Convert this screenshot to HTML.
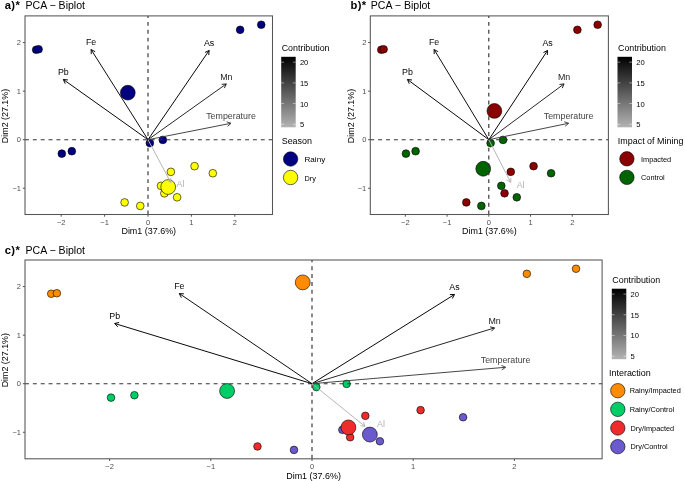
<!DOCTYPE html>
<html><head><meta charset="utf-8"><style>
html,body{margin:0;padding:0;background:#fff;}
svg{display:block;font-family:"Liberation Sans", sans-serif;will-change:transform;}
</style></head><body>
<svg width="685" height="481" viewBox="0 0 685 481">
<rect width="685" height="481" fill="#fff"/>
<text x="4.8" y="9.2" font-size="11.2" font-weight="bold" fill="#000" letter-spacing="0.35">a)*</text>
<text x="25.5" y="9.2" font-size="10.55" fill="#000">PCA − Biplot</text>
<circle cx="36.16" cy="49.74" r="3.85" fill="#000080" stroke="#000" stroke-width="0.6"/>
<circle cx="38.59" cy="49.25" r="3.85" fill="#000080" stroke="#000" stroke-width="0.6"/>
<circle cx="240.14" cy="29.83" r="3.85" fill="#000080" stroke="#000" stroke-width="0.6"/>
<circle cx="261.23" cy="24.73" r="3.85" fill="#000080" stroke="#000" stroke-width="0.6"/>
<circle cx="61.81" cy="153.63" r="3.85" fill="#000080" stroke="#000" stroke-width="0.6"/>
<circle cx="71.83" cy="151.21" r="3.85" fill="#000080" stroke="#000" stroke-width="0.6"/>
<circle cx="149.87" cy="143.10" r="3.85" fill="#000080" stroke="#000" stroke-width="0.6"/>
<circle cx="162.84" cy="139.89" r="3.85" fill="#000080" stroke="#000" stroke-width="0.6"/>
<circle cx="124.61" cy="202.43" r="3.85" fill="#ffff00" stroke="#000" stroke-width="0.6"/>
<circle cx="194.57" cy="166.16" r="3.85" fill="#ffff00" stroke="#000" stroke-width="0.6"/>
<circle cx="170.87" cy="171.84" r="3.85" fill="#ffff00" stroke="#000" stroke-width="0.6"/>
<circle cx="164.36" cy="193.30" r="3.85" fill="#ffff00" stroke="#000" stroke-width="0.6"/>
<circle cx="140.27" cy="205.92" r="3.85" fill="#ffff00" stroke="#000" stroke-width="0.6"/>
<circle cx="212.80" cy="173.25" r="3.85" fill="#ffff00" stroke="#000" stroke-width="0.6"/>
<circle cx="161.02" cy="185.82" r="3.85" fill="#ffff00" stroke="#000" stroke-width="0.6"/>
<circle cx="177.12" cy="197.28" r="3.85" fill="#ffff00" stroke="#000" stroke-width="0.6"/>
<circle cx="127.81" cy="92.67" r="7.4" fill="#000080" stroke="#000" stroke-width="0.6"/>
<circle cx="168.20" cy="187.00" r="7.4" fill="#ffff00" stroke="#000" stroke-width="0.6"/>
<line x1="25.0" y1="139.7" x2="272.5" y2="139.7" stroke="#333" stroke-width="1.15" stroke-dasharray="3.93 3.93"/>
<line x1="148.0" y1="214.5" x2="148.0" y2="15.9" stroke="#333" stroke-width="1.15" stroke-dasharray="3.93 3.93"/>
<line x1="148.0" y1="139.7" x2="91.10" y2="49.54" stroke="#090909" stroke-width="0.98"/>
<line x1="91.10" y1="49.54" x2="91.28" y2="54.14" stroke="#090909" stroke-width="0.98"/>
<line x1="91.10" y1="49.54" x2="95.17" y2="51.68" stroke="#090909" stroke-width="0.98"/>
<text x="91.10" y="45.24" font-size="8.85" fill="#090909" text-anchor="middle">Fe</text>
<line x1="148.0" y1="139.7" x2="63.37" y2="79.50" stroke="#020202" stroke-width="0.98"/>
<line x1="63.37" y1="79.50" x2="65.28" y2="83.68" stroke="#020202" stroke-width="0.98"/>
<line x1="63.37" y1="79.50" x2="67.95" y2="79.93" stroke="#020202" stroke-width="0.98"/>
<text x="63.37" y="75.20" font-size="8.85" fill="#020202" text-anchor="middle">Pb</text>
<line x1="148.0" y1="139.7" x2="209.11" y2="50.47" stroke="#010101" stroke-width="0.98"/>
<line x1="209.11" y1="50.47" x2="204.96" y2="52.45" stroke="#010101" stroke-width="0.98"/>
<line x1="209.11" y1="50.47" x2="208.75" y2="55.05" stroke="#010101" stroke-width="0.98"/>
<text x="209.11" y="46.17" font-size="8.85" fill="#010101" text-anchor="middle">As</text>
<line x1="148.0" y1="139.7" x2="226.29" y2="83.92" stroke="#222222" stroke-width="0.98"/>
<line x1="226.29" y1="83.92" x2="221.71" y2="84.35" stroke="#222222" stroke-width="0.98"/>
<line x1="226.29" y1="83.92" x2="224.38" y2="88.10" stroke="#222222" stroke-width="0.98"/>
<text x="226.29" y="79.62" font-size="8.85" fill="#222222" text-anchor="middle">Mn</text>
<line x1="148.0" y1="139.7" x2="231.02" y2="123.29" stroke="#434343" stroke-width="0.98"/>
<line x1="231.02" y1="123.29" x2="226.67" y2="121.81" stroke="#434343" stroke-width="0.98"/>
<line x1="231.02" y1="123.29" x2="227.56" y2="126.32" stroke="#434343" stroke-width="0.98"/>
<text x="231.02" y="118.99" font-size="8.85" fill="#434343" text-anchor="middle">Temperature</text>
<line x1="148.0" y1="139.7" x2="170.74" y2="182.38" stroke="#b3b3b3" stroke-width="0.98"/>
<line x1="170.74" y1="182.38" x2="170.90" y2="177.78" stroke="#b3b3b3" stroke-width="0.98"/>
<line x1="170.74" y1="182.38" x2="166.84" y2="179.94" stroke="#b3b3b3" stroke-width="0.98"/>
<text x="180.50" y="186.50" font-size="8.85" fill="#b3b3b3" text-anchor="middle">Al</text>
<rect x="25.0" y="15.9" width="247.5" height="198.6" fill="none" stroke="#555" stroke-width="1.05"/>
<line x1="61.20" y1="214.5" x2="61.20" y2="216.7" stroke="#555" stroke-width="1"/>
<text x="61.20" y="224.5" font-size="7.5" fill="#4d4d4d" text-anchor="middle">−2</text>
<line x1="104.60" y1="214.5" x2="104.60" y2="216.7" stroke="#555" stroke-width="1"/>
<text x="104.60" y="224.5" font-size="7.5" fill="#4d4d4d" text-anchor="middle">−1</text>
<line x1="148.00" y1="214.5" x2="148.00" y2="216.7" stroke="#555" stroke-width="1"/>
<text x="148.00" y="224.5" font-size="7.5" fill="#4d4d4d" text-anchor="middle">0</text>
<line x1="191.40" y1="214.5" x2="191.40" y2="216.7" stroke="#555" stroke-width="1"/>
<text x="191.40" y="224.5" font-size="7.5" fill="#4d4d4d" text-anchor="middle">1</text>
<line x1="234.80" y1="214.5" x2="234.80" y2="216.7" stroke="#555" stroke-width="1"/>
<text x="234.80" y="224.5" font-size="7.5" fill="#4d4d4d" text-anchor="middle">2</text>
<line x1="22.8" y1="188.25" x2="25.0" y2="188.25" stroke="#555" stroke-width="1"/>
<text x="21.0" y="191.00" font-size="7.5" fill="#4d4d4d" text-anchor="end">−1</text>
<line x1="22.8" y1="139.70" x2="25.0" y2="139.70" stroke="#555" stroke-width="1"/>
<text x="21.0" y="142.45" font-size="7.5" fill="#4d4d4d" text-anchor="end">0</text>
<line x1="22.8" y1="91.15" x2="25.0" y2="91.15" stroke="#555" stroke-width="1"/>
<text x="21.0" y="93.90" font-size="7.5" fill="#4d4d4d" text-anchor="end">1</text>
<line x1="22.8" y1="42.60" x2="25.0" y2="42.60" stroke="#555" stroke-width="1"/>
<text x="21.0" y="45.35" font-size="7.5" fill="#4d4d4d" text-anchor="end">2</text>
<text x="148.75" y="234.3" font-size="8.95" fill="#000" text-anchor="middle">Dim1 (37.6%)</text>
<text transform="translate(8.4,116.00) rotate(-90)" font-size="8.9" fill="#000" text-anchor="middle">Dim2 (27.1%)</text>
<text x="281.7" y="51.2" font-size="8.9" fill="#000">Contribution</text>
<defs><linearGradient id="ga" x1="0" y1="0" x2="0" y2="1"><stop offset="0" stop-color="#000000"/><stop offset="0.5" stop-color="#5a5a5a"/><stop offset="1" stop-color="#b3b3b3"/></linearGradient></defs>
<rect x="281.2" y="56.8" width="14.5" height="70.5" fill="url(#ga)"/>
<line x1="281.2" y1="62.18" x2="284.0" y2="62.18" stroke="#fff" stroke-width="0.6" opacity="0.8"/>
<line x1="292.9" y1="62.18" x2="295.7" y2="62.18" stroke="#fff" stroke-width="0.6" opacity="0.8"/>
<text x="299.9" y="65.18" font-size="7.6" fill="#000">20</text>
<line x1="281.2" y1="82.88" x2="284.0" y2="82.88" stroke="#fff" stroke-width="0.6" opacity="0.8"/>
<line x1="292.9" y1="82.88" x2="295.7" y2="82.88" stroke="#fff" stroke-width="0.6" opacity="0.8"/>
<text x="299.9" y="85.88" font-size="7.6" fill="#000">15</text>
<line x1="281.2" y1="103.58" x2="284.0" y2="103.58" stroke="#fff" stroke-width="0.6" opacity="0.8"/>
<line x1="292.9" y1="103.58" x2="295.7" y2="103.58" stroke="#fff" stroke-width="0.6" opacity="0.8"/>
<text x="299.9" y="106.58" font-size="7.6" fill="#000">10</text>
<line x1="281.2" y1="124.28" x2="284.0" y2="124.28" stroke="#fff" stroke-width="0.6" opacity="0.8"/>
<line x1="292.9" y1="124.28" x2="295.7" y2="124.28" stroke="#fff" stroke-width="0.6" opacity="0.8"/>
<text x="299.9" y="127.28" font-size="7.6" fill="#000">5</text>
<text x="281.7" y="144.0" font-size="8.95" fill="#000">Season</text>
<circle cx="290.6" cy="159.00" r="7.2" fill="#000080" stroke="#000" stroke-width="0.6"/>
<text x="304.5" y="162.00" font-size="8.1" fill="#000">Rainy</text>
<circle cx="290.6" cy="177.50" r="7.2" fill="#ffff00" stroke="#000" stroke-width="0.6"/>
<text x="304.5" y="180.50" font-size="7.35" fill="#000">Dry</text>
<text x="350.6" y="9.2" font-size="11.2" font-weight="bold" fill="#000" letter-spacing="0.35">b)*</text>
<text x="370.8" y="9.2" font-size="10.55" fill="#000">PCA − Biplot</text>
<circle cx="381.29" cy="49.74" r="3.85" fill="#8b0000" stroke="#000" stroke-width="0.6"/>
<circle cx="383.62" cy="49.25" r="3.85" fill="#8b0000" stroke="#000" stroke-width="0.6"/>
<circle cx="577.37" cy="29.83" r="3.85" fill="#8b0000" stroke="#000" stroke-width="0.6"/>
<circle cx="597.65" cy="24.73" r="3.85" fill="#8b0000" stroke="#000" stroke-width="0.6"/>
<circle cx="466.31" cy="202.43" r="3.85" fill="#8b0000" stroke="#000" stroke-width="0.6"/>
<circle cx="533.57" cy="166.16" r="3.85" fill="#8b0000" stroke="#000" stroke-width="0.6"/>
<circle cx="510.79" cy="171.84" r="3.85" fill="#8b0000" stroke="#000" stroke-width="0.6"/>
<circle cx="504.53" cy="193.30" r="3.85" fill="#8b0000" stroke="#000" stroke-width="0.6"/>
<circle cx="405.94" cy="153.63" r="3.85" fill="#006400" stroke="#000" stroke-width="0.6"/>
<circle cx="415.58" cy="151.21" r="3.85" fill="#006400" stroke="#000" stroke-width="0.6"/>
<circle cx="490.59" cy="143.10" r="3.85" fill="#006400" stroke="#000" stroke-width="0.6"/>
<circle cx="503.07" cy="139.89" r="3.85" fill="#006400" stroke="#000" stroke-width="0.6"/>
<circle cx="481.37" cy="205.92" r="3.85" fill="#006400" stroke="#000" stroke-width="0.6"/>
<circle cx="551.09" cy="173.25" r="3.85" fill="#006400" stroke="#000" stroke-width="0.6"/>
<circle cx="501.32" cy="185.82" r="3.85" fill="#006400" stroke="#000" stroke-width="0.6"/>
<circle cx="516.79" cy="197.28" r="3.85" fill="#006400" stroke="#000" stroke-width="0.6"/>
<circle cx="494.39" cy="110.91" r="7.4" fill="#8b0000" stroke="#000" stroke-width="0.6"/>
<circle cx="483.22" cy="168.76" r="7.4" fill="#006400" stroke="#000" stroke-width="0.6"/>
<line x1="370.3" y1="139.7" x2="608.4" y2="139.7" stroke="#333" stroke-width="1.15" stroke-dasharray="3.93 3.93"/>
<line x1="488.8" y1="214.5" x2="488.8" y2="15.9" stroke="#333" stroke-width="1.15" stroke-dasharray="3.93 3.93"/>
<line x1="488.8" y1="139.7" x2="434.11" y2="49.54" stroke="#090909" stroke-width="0.98"/>
<line x1="434.11" y1="49.54" x2="434.20" y2="54.14" stroke="#090909" stroke-width="0.98"/>
<line x1="434.11" y1="49.54" x2="438.14" y2="51.76" stroke="#090909" stroke-width="0.98"/>
<text x="434.11" y="45.24" font-size="8.85" fill="#090909" text-anchor="middle">Fe</text>
<line x1="488.8" y1="139.7" x2="407.45" y2="79.50" stroke="#020202" stroke-width="0.98"/>
<line x1="407.45" y1="79.50" x2="409.28" y2="83.72" stroke="#020202" stroke-width="0.98"/>
<line x1="407.45" y1="79.50" x2="412.02" y2="80.02" stroke="#020202" stroke-width="0.98"/>
<text x="407.45" y="75.20" font-size="8.85" fill="#020202" text-anchor="middle">Pb</text>
<line x1="488.8" y1="139.7" x2="547.54" y2="50.47" stroke="#010101" stroke-width="0.98"/>
<line x1="547.54" y1="50.47" x2="543.43" y2="52.53" stroke="#010101" stroke-width="0.98"/>
<line x1="547.54" y1="50.47" x2="547.27" y2="55.06" stroke="#010101" stroke-width="0.98"/>
<text x="547.54" y="46.17" font-size="8.85" fill="#010101" text-anchor="middle">As</text>
<line x1="488.8" y1="139.7" x2="564.06" y2="83.92" stroke="#222222" stroke-width="0.98"/>
<line x1="564.06" y1="83.92" x2="559.49" y2="84.44" stroke="#222222" stroke-width="0.98"/>
<line x1="564.06" y1="83.92" x2="562.23" y2="88.14" stroke="#222222" stroke-width="0.98"/>
<text x="564.06" y="79.62" font-size="8.85" fill="#222222" text-anchor="middle">Mn</text>
<line x1="488.8" y1="139.7" x2="568.61" y2="123.29" stroke="#434343" stroke-width="0.98"/>
<line x1="568.61" y1="123.29" x2="564.25" y2="121.84" stroke="#434343" stroke-width="0.98"/>
<line x1="568.61" y1="123.29" x2="565.17" y2="126.35" stroke="#434343" stroke-width="0.98"/>
<text x="568.61" y="118.99" font-size="8.85" fill="#434343" text-anchor="middle">Temperature</text>
<line x1="488.8" y1="139.7" x2="510.66" y2="182.38" stroke="#b3b3b3" stroke-width="0.98"/>
<line x1="510.66" y1="182.38" x2="510.89" y2="177.78" stroke="#b3b3b3" stroke-width="0.98"/>
<line x1="510.66" y1="182.38" x2="506.80" y2="179.88" stroke="#b3b3b3" stroke-width="0.98"/>
<text x="520.60" y="187.60" font-size="8.85" fill="#b3b3b3" text-anchor="middle">Al</text>
<rect x="370.3" y="15.9" width="238.09999999999997" height="198.6" fill="none" stroke="#555" stroke-width="1.05"/>
<line x1="405.36" y1="214.5" x2="405.36" y2="216.7" stroke="#555" stroke-width="1"/>
<text x="405.36" y="224.5" font-size="7.5" fill="#4d4d4d" text-anchor="middle">−2</text>
<line x1="447.08" y1="214.5" x2="447.08" y2="216.7" stroke="#555" stroke-width="1"/>
<text x="447.08" y="224.5" font-size="7.5" fill="#4d4d4d" text-anchor="middle">−1</text>
<line x1="488.80" y1="214.5" x2="488.80" y2="216.7" stroke="#555" stroke-width="1"/>
<text x="488.80" y="224.5" font-size="7.5" fill="#4d4d4d" text-anchor="middle">0</text>
<line x1="530.52" y1="214.5" x2="530.52" y2="216.7" stroke="#555" stroke-width="1"/>
<text x="530.52" y="224.5" font-size="7.5" fill="#4d4d4d" text-anchor="middle">1</text>
<line x1="572.24" y1="214.5" x2="572.24" y2="216.7" stroke="#555" stroke-width="1"/>
<text x="572.24" y="224.5" font-size="7.5" fill="#4d4d4d" text-anchor="middle">2</text>
<line x1="368.1" y1="188.25" x2="370.3" y2="188.25" stroke="#555" stroke-width="1"/>
<text x="366.3" y="191.00" font-size="7.5" fill="#4d4d4d" text-anchor="end">−1</text>
<line x1="368.1" y1="139.70" x2="370.3" y2="139.70" stroke="#555" stroke-width="1"/>
<text x="366.3" y="142.45" font-size="7.5" fill="#4d4d4d" text-anchor="end">0</text>
<line x1="368.1" y1="91.15" x2="370.3" y2="91.15" stroke="#555" stroke-width="1"/>
<text x="366.3" y="93.90" font-size="7.5" fill="#4d4d4d" text-anchor="end">1</text>
<line x1="368.1" y1="42.60" x2="370.3" y2="42.60" stroke="#555" stroke-width="1"/>
<text x="366.3" y="45.35" font-size="7.5" fill="#4d4d4d" text-anchor="end">2</text>
<text x="489.35" y="234.3" font-size="8.95" fill="#000" text-anchor="middle">Dim1 (37.6%)</text>
<text transform="translate(354.0,116.00) rotate(-90)" font-size="8.9" fill="#000" text-anchor="middle">Dim2 (27.1%)</text>
<text x="618.0" y="51.2" font-size="8.9" fill="#000">Contribution</text>
<defs><linearGradient id="gb" x1="0" y1="0" x2="0" y2="1"><stop offset="0" stop-color="#000000"/><stop offset="0.5" stop-color="#5a5a5a"/><stop offset="1" stop-color="#b3b3b3"/></linearGradient></defs>
<rect x="617.5" y="56.8" width="14.5" height="70.5" fill="url(#gb)"/>
<line x1="617.5" y1="62.18" x2="620.3" y2="62.18" stroke="#fff" stroke-width="0.6" opacity="0.8"/>
<line x1="629.2" y1="62.18" x2="632.0" y2="62.18" stroke="#fff" stroke-width="0.6" opacity="0.8"/>
<text x="636.2" y="65.18" font-size="7.6" fill="#000">20</text>
<line x1="617.5" y1="82.88" x2="620.3" y2="82.88" stroke="#fff" stroke-width="0.6" opacity="0.8"/>
<line x1="629.2" y1="82.88" x2="632.0" y2="82.88" stroke="#fff" stroke-width="0.6" opacity="0.8"/>
<text x="636.2" y="85.88" font-size="7.6" fill="#000">15</text>
<line x1="617.5" y1="103.58" x2="620.3" y2="103.58" stroke="#fff" stroke-width="0.6" opacity="0.8"/>
<line x1="629.2" y1="103.58" x2="632.0" y2="103.58" stroke="#fff" stroke-width="0.6" opacity="0.8"/>
<text x="636.2" y="106.58" font-size="7.6" fill="#000">10</text>
<line x1="617.5" y1="124.28" x2="620.3" y2="124.28" stroke="#fff" stroke-width="0.6" opacity="0.8"/>
<line x1="629.2" y1="124.28" x2="632.0" y2="124.28" stroke="#fff" stroke-width="0.6" opacity="0.8"/>
<text x="636.2" y="127.28" font-size="7.6" fill="#000">5</text>
<text x="617.8" y="143.9" font-size="8.95" fill="#000">Impact of Mining</text>
<circle cx="626.9" cy="158.80" r="7.2" fill="#8b0000" stroke="#000" stroke-width="0.6"/>
<text x="641.0" y="161.80" font-size="7.35" fill="#000">Impacted</text>
<circle cx="626.9" cy="177.40" r="7.2" fill="#006400" stroke="#000" stroke-width="0.6"/>
<text x="641.0" y="180.40" font-size="7.35" fill="#000">Control</text>
<text x="4.8" y="253.6" font-size="11.2" font-weight="bold" fill="#000" letter-spacing="0.35">c)*</text>
<text x="25.5" y="253.6" font-size="10.55" fill="#000">PCA − Biplot</text>
<circle cx="51.21" cy="293.74" r="3.8" fill="#ff8c00" stroke="#000" stroke-width="0.6"/>
<circle cx="56.87" cy="293.25" r="3.8" fill="#ff8c00" stroke="#000" stroke-width="0.6"/>
<circle cx="526.85" cy="273.83" r="3.8" fill="#ff8c00" stroke="#000" stroke-width="0.6"/>
<circle cx="576.03" cy="268.73" r="3.8" fill="#ff8c00" stroke="#000" stroke-width="0.6"/>
<circle cx="111.02" cy="397.63" r="3.8" fill="#00cd66" stroke="#000" stroke-width="0.6"/>
<circle cx="134.39" cy="395.21" r="3.8" fill="#00cd66" stroke="#000" stroke-width="0.6"/>
<circle cx="316.35" cy="387.10" r="3.8" fill="#00cd66" stroke="#000" stroke-width="0.6"/>
<circle cx="346.61" cy="383.89" r="3.8" fill="#00cd66" stroke="#000" stroke-width="0.6"/>
<circle cx="257.45" cy="446.43" r="3.8" fill="#ee2c2c" stroke="#000" stroke-width="0.6"/>
<circle cx="420.59" cy="410.16" r="3.8" fill="#ee2c2c" stroke="#000" stroke-width="0.6"/>
<circle cx="365.33" cy="415.84" r="3.8" fill="#ee2c2c" stroke="#000" stroke-width="0.6"/>
<circle cx="350.15" cy="437.30" r="3.8" fill="#ee2c2c" stroke="#000" stroke-width="0.6"/>
<circle cx="293.99" cy="449.92" r="3.8" fill="#6a5acd" stroke="#000" stroke-width="0.6"/>
<circle cx="463.09" cy="417.25" r="3.8" fill="#6a5acd" stroke="#000" stroke-width="0.6"/>
<circle cx="342.36" cy="429.82" r="3.8" fill="#6a5acd" stroke="#000" stroke-width="0.6"/>
<circle cx="379.91" cy="441.28" r="3.8" fill="#6a5acd" stroke="#000" stroke-width="0.6"/>
<circle cx="302.74" cy="282.39" r="7.45" fill="#ff8c00" stroke="#000" stroke-width="0.6"/>
<circle cx="227.09" cy="390.96" r="7.45" fill="#00cd66" stroke="#000" stroke-width="0.6"/>
<circle cx="348.38" cy="427.43" r="7.45" fill="#ee2c2c" stroke="#000" stroke-width="0.6"/>
<circle cx="369.84" cy="434.57" r="7.45" fill="#6a5acd" stroke="#000" stroke-width="0.6"/>
<line x1="25.0" y1="383.7" x2="602.1" y2="383.7" stroke="#333" stroke-width="1.15" stroke-dasharray="3.93 3.93"/>
<line x1="312.0" y1="458.8" x2="312.0" y2="260.0" stroke="#333" stroke-width="1.15" stroke-dasharray="3.93 3.93"/>
<line x1="312.0" y1="383.7" x2="179.33" y2="293.54" stroke="#090909" stroke-width="0.98"/>
<line x1="179.33" y1="293.54" x2="181.33" y2="297.68" stroke="#090909" stroke-width="0.98"/>
<line x1="179.33" y1="293.54" x2="183.91" y2="293.88" stroke="#090909" stroke-width="0.98"/>
<text x="179.33" y="289.24" font-size="8.85" fill="#090909" text-anchor="middle">Fe</text>
<line x1="312.0" y1="383.7" x2="114.66" y2="323.50" stroke="#020202" stroke-width="0.98"/>
<line x1="114.66" y1="323.50" x2="117.80" y2="326.86" stroke="#020202" stroke-width="0.98"/>
<line x1="114.66" y1="323.50" x2="119.14" y2="322.46" stroke="#020202" stroke-width="0.98"/>
<text x="114.66" y="319.20" font-size="8.85" fill="#020202" text-anchor="middle">Pb</text>
<line x1="312.0" y1="383.7" x2="454.49" y2="294.47" stroke="#010101" stroke-width="0.98"/>
<line x1="454.49" y1="294.47" x2="449.89" y2="294.63" stroke="#010101" stroke-width="0.98"/>
<line x1="454.49" y1="294.47" x2="452.33" y2="298.53" stroke="#010101" stroke-width="0.98"/>
<text x="454.49" y="290.17" font-size="8.85" fill="#010101" text-anchor="middle">As</text>
<line x1="312.0" y1="383.7" x2="494.56" y2="327.92" stroke="#222222" stroke-width="0.98"/>
<line x1="494.56" y1="327.92" x2="490.08" y2="326.88" stroke="#222222" stroke-width="0.98"/>
<line x1="494.56" y1="327.92" x2="491.43" y2="331.28" stroke="#222222" stroke-width="0.98"/>
<text x="494.56" y="323.62" font-size="8.85" fill="#222222" text-anchor="middle">Mn</text>
<line x1="312.0" y1="383.7" x2="505.60" y2="367.29" stroke="#434343" stroke-width="0.98"/>
<line x1="505.60" y1="367.29" x2="501.43" y2="365.33" stroke="#434343" stroke-width="0.98"/>
<line x1="505.60" y1="367.29" x2="501.82" y2="369.92" stroke="#434343" stroke-width="0.98"/>
<text x="505.60" y="362.99" font-size="8.85" fill="#434343" text-anchor="middle">Temperature</text>
<line x1="312.0" y1="383.7" x2="365.03" y2="426.38" stroke="#b3b3b3" stroke-width="0.98"/>
<line x1="365.03" y1="426.38" x2="363.37" y2="422.09" stroke="#b3b3b3" stroke-width="0.98"/>
<line x1="365.03" y1="426.38" x2="360.48" y2="425.67" stroke="#b3b3b3" stroke-width="0.98"/>
<text x="381.00" y="426.60" font-size="8.85" fill="#b3b3b3" text-anchor="middle">Al</text>
<rect x="25.0" y="260.0" width="577.1" height="198.8" fill="none" stroke="#555" stroke-width="1.05"/>
<line x1="109.60" y1="458.8" x2="109.60" y2="461.0" stroke="#555" stroke-width="1"/>
<text x="109.60" y="468.8" font-size="7.5" fill="#4d4d4d" text-anchor="middle">−2</text>
<line x1="210.80" y1="458.8" x2="210.80" y2="461.0" stroke="#555" stroke-width="1"/>
<text x="210.80" y="468.8" font-size="7.5" fill="#4d4d4d" text-anchor="middle">−1</text>
<line x1="312.00" y1="458.8" x2="312.00" y2="461.0" stroke="#555" stroke-width="1"/>
<text x="312.00" y="468.8" font-size="7.5" fill="#4d4d4d" text-anchor="middle">0</text>
<line x1="413.20" y1="458.8" x2="413.20" y2="461.0" stroke="#555" stroke-width="1"/>
<text x="413.20" y="468.8" font-size="7.5" fill="#4d4d4d" text-anchor="middle">1</text>
<line x1="514.40" y1="458.8" x2="514.40" y2="461.0" stroke="#555" stroke-width="1"/>
<text x="514.40" y="468.8" font-size="7.5" fill="#4d4d4d" text-anchor="middle">2</text>
<line x1="22.8" y1="432.25" x2="25.0" y2="432.25" stroke="#555" stroke-width="1"/>
<text x="21.0" y="435.00" font-size="7.5" fill="#4d4d4d" text-anchor="end">−1</text>
<line x1="22.8" y1="383.70" x2="25.0" y2="383.70" stroke="#555" stroke-width="1"/>
<text x="21.0" y="386.45" font-size="7.5" fill="#4d4d4d" text-anchor="end">0</text>
<line x1="22.8" y1="335.15" x2="25.0" y2="335.15" stroke="#555" stroke-width="1"/>
<text x="21.0" y="337.90" font-size="7.5" fill="#4d4d4d" text-anchor="end">1</text>
<line x1="22.8" y1="286.60" x2="25.0" y2="286.60" stroke="#555" stroke-width="1"/>
<text x="21.0" y="289.35" font-size="7.5" fill="#4d4d4d" text-anchor="end">2</text>
<text x="313.55" y="478.6" font-size="8.95" fill="#000" text-anchor="middle">Dim1 (37.6%)</text>
<text transform="translate(8.4,360.20) rotate(-90)" font-size="8.9" fill="#000" text-anchor="middle">Dim2 (27.1%)</text>
<text x="612.3" y="283.3" font-size="8.9" fill="#000">Contribution</text>
<defs><linearGradient id="gc" x1="0" y1="0" x2="0" y2="1"><stop offset="0" stop-color="#000000"/><stop offset="0.5" stop-color="#5a5a5a"/><stop offset="1" stop-color="#b3b3b3"/></linearGradient></defs>
<rect x="611.8" y="288.7" width="14.5" height="70.5" fill="url(#gc)"/>
<line x1="611.8" y1="294.08" x2="614.5999999999999" y2="294.08" stroke="#fff" stroke-width="0.6" opacity="0.8"/>
<line x1="623.5" y1="294.08" x2="626.3" y2="294.08" stroke="#fff" stroke-width="0.6" opacity="0.8"/>
<text x="630.5" y="297.08" font-size="7.6" fill="#000">20</text>
<line x1="611.8" y1="314.78" x2="614.5999999999999" y2="314.78" stroke="#fff" stroke-width="0.6" opacity="0.8"/>
<line x1="623.5" y1="314.78" x2="626.3" y2="314.78" stroke="#fff" stroke-width="0.6" opacity="0.8"/>
<text x="630.5" y="317.78" font-size="7.6" fill="#000">15</text>
<line x1="611.8" y1="335.48" x2="614.5999999999999" y2="335.48" stroke="#fff" stroke-width="0.6" opacity="0.8"/>
<line x1="623.5" y1="335.48" x2="626.3" y2="335.48" stroke="#fff" stroke-width="0.6" opacity="0.8"/>
<text x="630.5" y="338.48" font-size="7.6" fill="#000">10</text>
<line x1="611.8" y1="356.18" x2="614.5999999999999" y2="356.18" stroke="#fff" stroke-width="0.6" opacity="0.8"/>
<line x1="623.5" y1="356.18" x2="626.3" y2="356.18" stroke="#fff" stroke-width="0.6" opacity="0.8"/>
<text x="630.5" y="359.18" font-size="7.6" fill="#000">5</text>
<text x="609.0" y="376.3" font-size="8.95" fill="#000">Interaction</text>
<circle cx="617.8" cy="390.70" r="7.2" fill="#ff8c00" stroke="#000" stroke-width="0.6"/>
<text x="629.7" y="393.30" font-size="7.35" fill="#000">Rainy/Impacted</text>
<circle cx="617.8" cy="409.35" r="7.2" fill="#00cd66" stroke="#000" stroke-width="0.6"/>
<text x="629.7" y="411.95" font-size="7.35" fill="#000">Rainy/Control</text>
<circle cx="617.8" cy="428.00" r="7.2" fill="#ee2c2c" stroke="#000" stroke-width="0.6"/>
<text x="630.5" y="430.60" font-size="7.35" fill="#000">Dry/Impacted</text>
<circle cx="617.8" cy="446.65" r="7.2" fill="#6a5acd" stroke="#000" stroke-width="0.6"/>
<text x="630.5" y="449.25" font-size="7.35" fill="#000">Dry/Control</text>
</svg>
</body></html>
